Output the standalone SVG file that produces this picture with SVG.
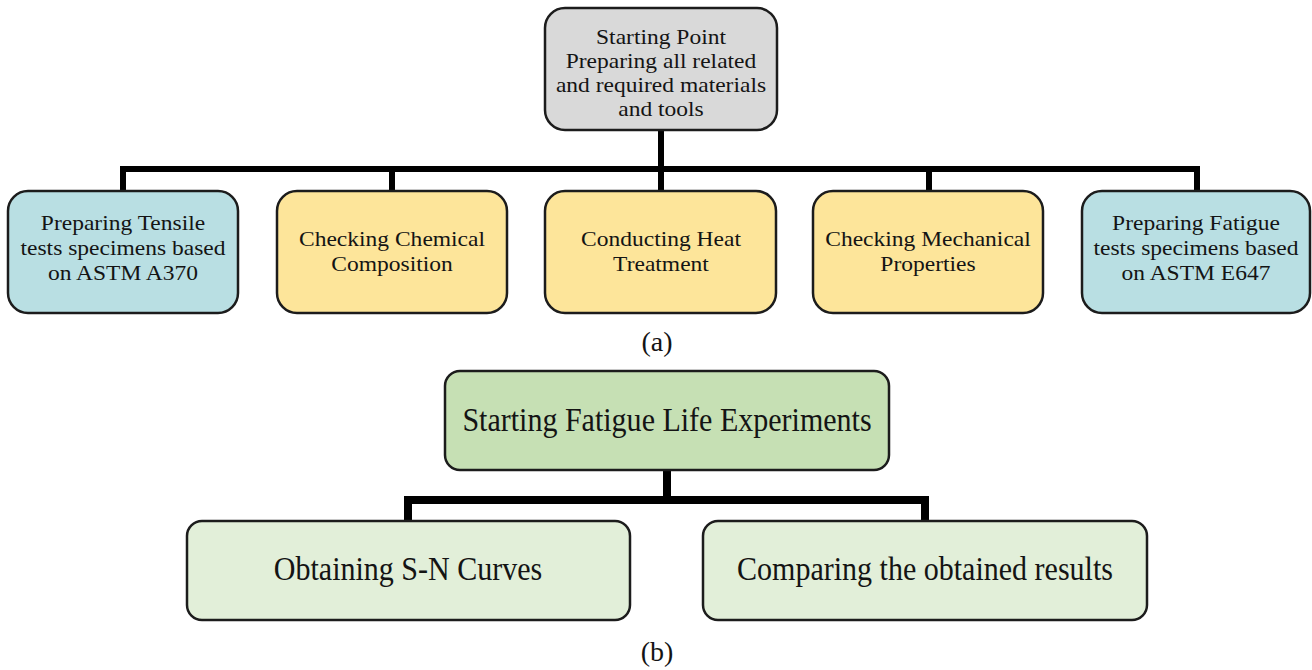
<svg xmlns="http://www.w3.org/2000/svg" width="1312" height="670" viewBox="0 0 1312 670">
<style>
.box{stroke:#1c1c1c;stroke-width:2.5}
.gray{fill:#d9d9d9}
.blue{fill:#b9dfe3}
.yel{fill:#fde59a}
.g1{fill:#c6e0b4}
.g2{fill:#e2efd9}
text{font-family:"Liberation Serif","Times New Roman",serif;fill:#141414;text-anchor:middle}
.t{font-size:21px}
.b{font-size:33px}
.lab{font-size:28px}
.c{fill:none;stroke:#000;stroke-linecap:square;stroke-linejoin:miter}
</style>
<rect width="1312" height="670" fill="#fff"/>
<g id="connectors">
<path class="c" stroke-width="6" d="M661 131 V190 M123 169 H1197 M123 169 V190 M392 169 V190 M929 169 V190 M1197 169 V190"/>
<path class="c" stroke-width="8" d="M667 471 V500 M408 500 H925 M408 500 V520 M925 500 V520"/>
</g>
<g id="start">
<rect class="box gray" x="545" y="8" width="232" height="122" rx="20"/>
<g transform="translate(661,0) scale(1.12,1)">
<text x="0" y="44" class="t">Starting Point</text>
<text x="0" y="68" class="t">Preparing all related</text>
<text x="0" y="92" class="t">and required materials</text>
<text x="0" y="116" class="t">and tools</text>
</g>
</g>
<g id="tensile">
<rect class="box blue" x="8" y="191" width="230" height="122" rx="20"/>
<g transform="translate(123,0) scale(1.12,1)">
<text x="0" y="230" class="t">Preparing Tensile</text>
<text x="0" y="255" class="t">tests specimens based</text>
<text x="0" y="280" class="t">on ASTM A370</text>
</g>
</g>
<g id="chemical">
<rect class="box yel" x="277" y="191" width="230" height="122" rx="20"/>
<g transform="translate(392,0) scale(1.12,1)">
<text x="0" y="246" class="t">Checking Chemical</text>
<text x="0" y="271" class="t">Composition</text>
</g>
</g>
<g id="heat">
<rect class="box yel" x="545" y="191" width="231" height="122" rx="20"/>
<g transform="translate(661,0) scale(1.12,1)">
<text x="0" y="246" class="t">Conducting Heat</text>
<text x="0" y="271" class="t">Treatment</text>
</g>
</g>
<g id="mechanical">
<rect class="box yel" x="813" y="191" width="230" height="122" rx="20"/>
<g transform="translate(928,0) scale(1.12,1)">
<text x="0" y="246" class="t">Checking Mechanical</text>
<text x="0" y="271" class="t">Properties</text>
</g>
</g>
<g id="fatigue">
<rect class="box blue" x="1082" y="191" width="228" height="122" rx="20"/>
<g transform="translate(1196,0) scale(1.12,1)">
<text x="0" y="230" class="t">Preparing Fatigue</text>
<text x="0" y="255" class="t">tests specimens based</text>
<text x="0" y="280" class="t">on ASTM E647</text>
</g>
</g>
<text id="label-a" x="657" y="351" class="lab">(a)</text>
<g id="experiments">
<rect class="box g1" x="445" y="371" width="444" height="99" rx="15"/>
<g transform="translate(667,0) scale(0.91,1)">
<text x="0" y="431" class="b">Starting Fatigue Life Experiments</text>
</g>
</g>
<g id="sn">
<rect class="box g2" x="187" y="521" width="443" height="99" rx="15"/>
<g transform="translate(408,0) scale(0.91,1)">
<text x="0" y="580" class="b">Obtaining S-N Curves</text>
</g>
</g>
<g id="compare">
<rect class="box g2" x="703" y="521" width="444" height="99" rx="15"/>
<g transform="translate(925,0) scale(0.91,1)">
<text x="0" y="580" class="b">Comparing the obtained results</text>
</g>
</g>
<text id="label-b" x="657" y="661" class="lab">(b)</text>
</svg>
